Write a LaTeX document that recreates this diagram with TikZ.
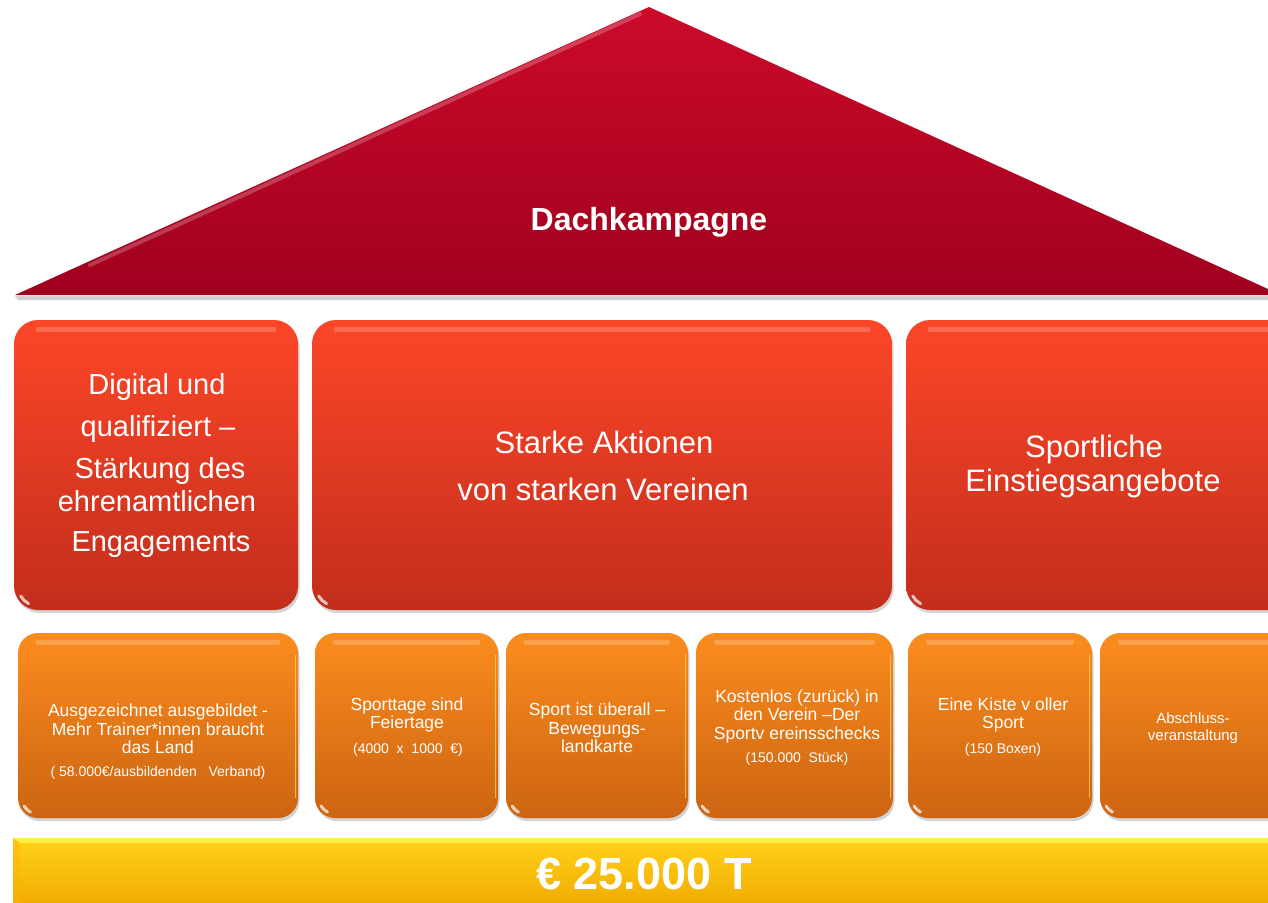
\documentclass[tikz,border=0pt]{standalone}
\usepackage{fontspec}
\setmainfont{Liberation Sans}
\usetikzlibrary{shadows,calc}
\definecolor{roofTop}{HTML}{CC0A2A}
\definecolor{roofBot}{HTML}{A0001E}
\definecolor{pilTop}{HTML}{FC4628}
\definecolor{pilBot}{HTML}{C22E1C}
\definecolor{boxTop}{HTML}{FB8C1E}
\definecolor{boxBot}{HTML}{CC6412}
\definecolor{barTop}{HTML}{FFD21A}
\definecolor{barBot}{HTML}{F0A800}
\tikzset{
  pillar/.style={rounded corners=24pt, top color=pilTop, bottom color=pilBot, draw=none,
    drop shadow={opacity=0.35, shadow xshift=1.5pt, shadow yshift=-3pt}},
  smallbox/.style={rounded corners=20pt, top color=boxTop, bottom color=boxBot, draw=none,
    drop shadow={opacity=0.35, shadow xshift=1.5pt, shadow yshift=-3pt}},
  gloss/.style={line width=5pt, white, opacity=0.2, line cap=round},
  corner/.style={white, opacity=0.7, line width=3pt, line cap=round},
  bigtxt/.style={text=white, font=\fontsize{29}{34}\selectfont, align=center, inner sep=0pt},
  midtxt/.style={text=white, font=\fontsize{31}{36}\selectfont, align=center, inner sep=0pt},
  smalltxt/.style={text=white, font=\fontsize{17.5}{18.5}\selectfont, align=center, inner sep=0pt},
  tinytxt/.style={text=white, font=\fontsize{14}{16}\selectfont, align=center, inner sep=0pt},
}
\begin{document}
\begin{tikzpicture}[x=1pt,y=-1pt]
\useasboundingbox (0,0) rectangle (1268,902);
\clip (0,0) rectangle (1268,902);
% roof
\coordinate (apex) at (649,7);
\coordinate (rl) at (15,295);
\coordinate (rr) at (1268,289);
\fill[black!30, opacity=0.6] (15,296) -- (1268,296) -- (1268,300) -- (18,300) -- cycle;
\shade[top color=roofTop, bottom color=roofBot] (apex) -- (rr) -- (1268,295) -- (rl) -- cycle;
\draw[white, opacity=0.22, line width=4pt, line cap=round] (640,14) -- (90,265);
\node[bigtxt, font=\bfseries\fontsize{32}{36}\selectfont] (dach) at (649,222) {Dachkampagne};
% pillars
\path[pillar] (14,320) rectangle (298,610);
\path[pillar] (312,320) rectangle (892,610);
\path[pillar] (906,320) rectangle (1320,610);
\foreach \a/\b in {14/298,312/892,906/1320}{
  \draw[gloss] (\a+24,329) -- (\b-24,329);
  \draw[corner] (\a+24,586) ++(118:20) arc[start angle=118, end angle=150, radius=20];
}
\node[bigtxt] (p1a) at (157,387) {Digital und};
\node[bigtxt] (p1b) at (158,429) {qualifiziert –};
\node[bigtxt] (p1c) at (160,471) {Stärkung des};
\node[bigtxt] (p1d) at (157,501) {ehrenamtlichen};
\node[bigtxt] (p1e) at (161,545) {Engagements};
\node[midtxt] (p2a) at (604,442) {Starke Aktionen};
\node[midtxt] (p2b) at (603,489) {von starken Vereinen};
\node[midtxt] (p3a) at (1094,449) {Sportliche};
\node[midtxt] (p3b) at (1093,483) {Einstiegsangebote};
% small boxes
\path[smallbox] (18,633) rectangle (298,818);
\path[smallbox] (315,633) rectangle (498,818);
\path[smallbox] (506,633) rectangle (688,818);
\path[smallbox] (696,633) rectangle (893,818);
\path[smallbox] (908,633) rectangle (1092,818);
\path[smallbox] (1100,633) rectangle (1320,818);
\foreach \a/\b in {18/298,315/498,506/688,696/893,908/1092,1100/1320}{
  \draw[gloss] (\a+20,642) -- (\b-20,642);
  \draw[yellow!50!white, opacity=0.55, line width=1.5pt] (\b-2.5,655) -- (\b-2.5,798);
  \draw[corner] (\a+20,798) ++(118:16) arc[start angle=118, end angle=150, radius=16];
}
\node[smalltxt] (s1) at (158,729) {Ausgezeichnet ausgebildet -\\Mehr Trainer*innen braucht\\das Land};
\node[tinytxt] (s1p) at (158,773) {( 58.000€/ausbildenden\ \ \ Verband)};
\node[smalltxt] (s2) at (407,715) {Sporttage sind\\Feiertage};
\node[tinytxt] (s2p) at (408,750) {(4000\ \ x\ \ 1000\ \ €)};
\node[smalltxt] (s3) at (597,728) {Sport ist überall –\\Bewegungs-\\landkarte};
\node[smalltxt] (s4) at (797,716) {Kostenlos (zurück) in\\den Verein –Der\\Sportv ereinsschecks};
\node[tinytxt] (s4p) at (797,759) {(150.000\ \ Stück)};
\node[smalltxt] (s5) at (1003,715) {Eine Kiste v oller\\Sport};
\node[tinytxt] (s5p) at (1003,750) {(150 Boxen)};
\node[tinytxt, font=\fontsize{15}{17}\selectfont] (s6) at (1193,728) {Abschluss-\\veranstaltung};
% bar
\shade[top color=barTop, bottom color=barBot] (13,838) rectangle (1320,910);
\fill[yellow!70!white, opacity=0.8] (13,838) -- (1320,838) -- (1320,843) -- (20,843) -- cycle;
\fill[orange!60!yellow, opacity=0.4] (13,838) -- (20,843) -- (20,910) -- (13,910) -- cycle;
\node[text=white, font=\bfseries\fontsize{45}{50}\selectfont, inner sep=0pt] (cost) at (644,874) {€ 25.000 T};
\end{tikzpicture}
\end{document}
